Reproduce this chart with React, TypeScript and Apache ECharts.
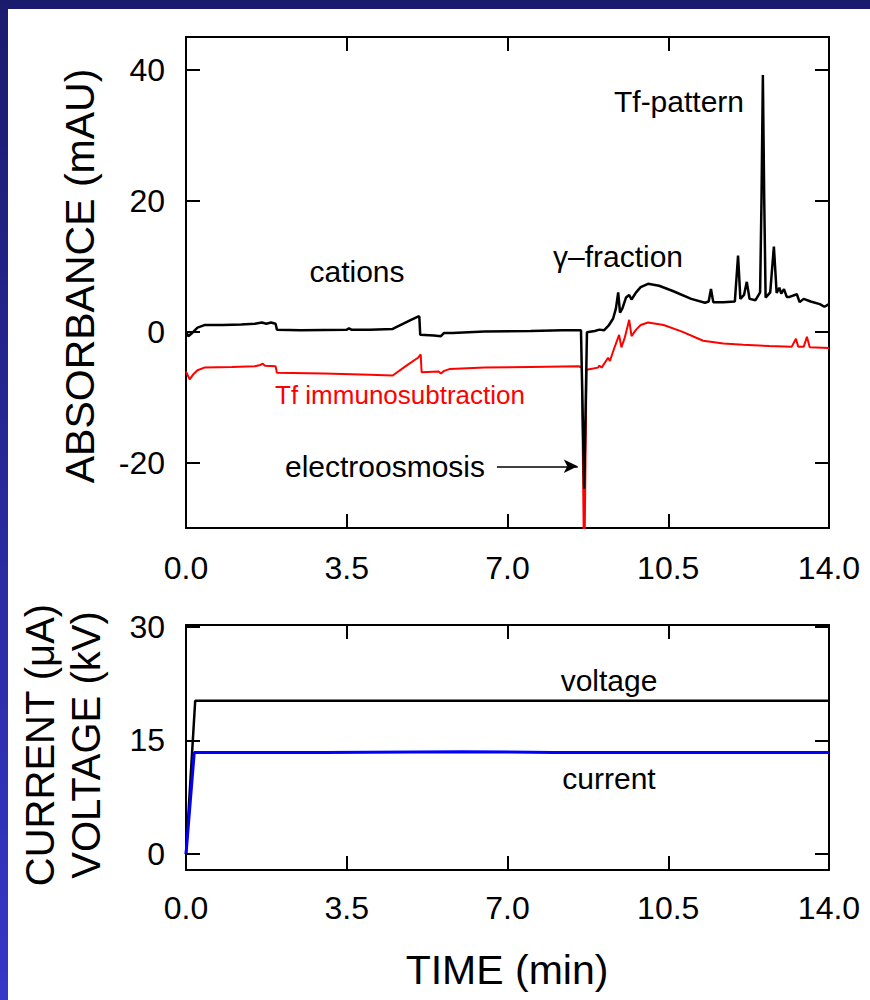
import React, { useEffect, useRef } from "react";
import * as echarts from "echarts";

// Absorbance electropherogram (time in min, absorbance in mAU)
const controlTime = [
  0.0, 0.05, 0.12, 0.25, 0.4, 0.8, 1.2, 1.5, 1.65, 1.75, 1.85, 1.95, 1.98, 2.5, 3.0, 3.5, 3.55, 3.6, 4.0, 4.5,
  4.7, 4.9, 5.05, 5.08, 5.1, 5.4, 5.55, 5.62, 5.8, 6.5, 7.5, 8.2, 8.6, 8.67, 8.73, 8.9, 9.0, 9.1, 9.2, 9.3,
  9.36, 9.41, 9.45, 9.5, 9.58, 9.65, 9.7, 9.8, 9.9, 10.06, 10.3, 10.6, 11.0, 11.3, 11.38, 11.43, 11.48, 11.7, 11.95, 12.02,
  12.07, 12.15, 12.21, 12.27, 12.4, 12.5, 12.53, 12.56, 12.59, 12.62, 12.72, 12.8, 12.86, 12.92, 12.96, 13.02, 13.08, 13.14, 13.3, 13.36,
  13.45, 13.6, 13.8, 13.9, 14.0,
];
const controlAbs = [
  0.0, -0.7, -0.3, 0.6, 1.0, 1.0, 1.1, 1.2, 1.4, 1.2, 1.4, 1.2, 0.3, 0.2, 0.25, 0.3, 0.5, 0.3, 0.3, 0.4,
  1.1, 1.8, 2.3, 2.3, -0.5, -0.6, -0.7, -0.2, -0.2, 0.0, 0.1, 0.2, 0.2, -24, -0.1, 0.1, 0.3, 0.2, 0.9, 2.0,
  3.5, 6.0, 2.9, 3.5, 5.2, 5.6, 4.9, 6.0, 6.8, 7.3, 7.0, 6.2, 5.0, 4.4, 4.6, 6.5, 4.5, 4.5, 4.6, 11.6,
  5.0, 5.6, 7.6, 5.0, 4.8, 6.0, 20.0, 39.2, 20.0, 5.2, 6.0, 13.0, 5.9, 6.7, 5.8, 6.5, 5.3, 5.3, 5.7, 4.5,
  5.0, 4.6, 4.2, 3.8, 4.2,
];

const subtractedTime = [
  0.0, 0.08, 0.15, 0.25, 0.4, 1.0, 1.5, 1.62, 1.67, 1.72, 1.95, 1.98, 3.0, 4.0, 4.5, 4.8, 5.05, 5.11, 5.13, 5.5,
  5.55, 5.62, 5.75, 6.5, 7.5, 8.55, 8.62, 8.67, 8.72, 8.75, 8.97, 9.0, 9.05, 9.19, 9.23, 9.3, 9.43, 9.48, 9.55, 9.65,
  9.7, 9.8, 9.9, 10.06, 10.4, 10.8, 11.26, 11.7, 12.13, 12.7, 13.19, 13.28, 13.33, 13.45, 13.52, 13.58, 14.0,
];
const subtractedAbs = [
  -6.1, -7.3, -6.6, -5.9, -5.5, -5.4, -5.3, -5.1, -4.9, -5.2, -5.3, -6.3, -6.4, -6.6, -6.7, -5.2, -4.0, -3.5, -6.2, -6.1,
  -6.4, -6.0, -5.7, -5.5, -5.4, -5.3, -5.5, -38, -5.8, -5.8, -5.5, -5.2, -5.5, -4.0, -4.5, -3.0, -0.5, -2.4, -1.0, 1.8,
  -0.7, 0.3, 1.0, 1.4, 1.0, 0.0, -1.4, -1.8, -2.0, -2.2, -2.3, -1.1, -2.3, -2.3, -0.8, -2.4, -2.5,
];

// Electrical trace
const voltageTime = [0, 0.2, 3.5, 7.0, 10.5, 14.0];
const voltageKV = [0, 20.2, 20.2, 20.2, 20.2, 20.2];
const currentTime = [0, 0.18, 3.0, 6.0, 8.0, 12.0, 14.0];
const currentUA = [0, 13.4, 13.4, 13.5, 13.4, 13.4, 13.4];

const timeTicks = [0, 3.5, 7.0, 10.5, 14.0];
const absTicks = [-20, 0, 20, 40];
const elecTicks = [0, 15, 30];

const FONT = "'Liberation Sans', Arial, sans-serif";
const zip = (a: number[], b: number[]) => a.map((v, i) => [v, b[i]]);

export default function App() {
  const ref = useRef<HTMLDivElement>(null);
  useEffect(() => {
    if (!ref.current) return;
    const chart = echarts.init(ref.current, undefined, { renderer: "svg" });
    const line = { show: true, onZero: false, lineStyle: { color: "#000", width: 2 } };
    const tick = { show: true, inside: true, length: 14, lineStyle: { color: "#000", width: 2 } };
    const noLabel = { show: false };
    const xBase = (grid: number, pos: string, labels: boolean, margin: number) => ({
      type: "value",
      gridIndex: grid,
      position: pos,
      min: 0,
      max: 14,
      interval: 3.5,
      axisLine: line,
      axisTick: tick,
      splitLine: { show: false },
      axisLabel: labels
        ? {
            show: true,
            margin,
            fontSize: 32,
            color: "#000",
            fontFamily: FONT,
            showMinLabel: true,
            showMaxLabel: true,
            formatter: (v: number) => v.toFixed(1),
          }
        : noLabel,
    });
    const yBase = (grid: number, pos: string, labels: boolean, min: number, max: number, ticks: number[]) => ({
      type: "value",
      gridIndex: grid,
      position: pos,
      min,
      max,
      axisLine: line,
      axisTick: { ...tick, customValues: ticks },
      splitLine: { show: false },
      axisLabel: labels
        ? { show: true, margin: 21, fontSize: 32, color: "#000", fontFamily: FONT, customValues: ticks }
        : { show: false, customValues: ticks },
    });
    const txt = (text: string, x: number, y: number, size: number, color = "#000", rotation = 0) => ({
      type: "text",
      x,
      y,
      rotation,
      style: {
        text,
        fill: color,
        fontSize: size,
        fontFamily: FONT,
        textAlign: "center",
        textVerticalAlign: "middle",
      },
      z: 10,
    });
    chart.setOption({
      animation: false,
      backgroundColor: "#fff",
      grid: [
        { left: 186, top: 37, width: 643, height: 491 },
        { left: 186, top: 625, width: 643, height: 245 },
      ],
      xAxis: [
        xBase(0, "bottom", true, 24),
        xBase(0, "top", false, 0),
        xBase(1, "bottom", true, 22),
        xBase(1, "top", false, 0),
      ],
      yAxis: [
        yBase(0, "left", true, -30, 45, absTicks),
        yBase(0, "right", false, -30, 45, absTicks),
        yBase(1, "left", true, -2.1, 30.2, elecTicks),
        yBase(1, "right", false, -2.1, 30.2, elecTicks),
      ],
      series: [
        {
          type: "line",
          xAxisIndex: 0,
          yAxisIndex: 0,
          data: zip(controlTime, controlAbs),
          showSymbol: false,
          lineStyle: { color: "#000", width: 2.5 },
          z: 3,
          markLine: {
            silent: true,
            symbol: ["none", "arrow"],
            symbolSize: [10, 14],
            label: { show: false },
            lineStyle: { color: "#000", width: 1.5, type: "solid" },
            data: [[{ coord: [6.77, -20.57] }, { coord: [8.53, -20.57] }]],
          },
        },
        {
          type: "line",
          xAxisIndex: 0,
          yAxisIndex: 0,
          data: zip(subtractedTime, subtractedAbs),
          showSymbol: false,
          lineStyle: { color: "#ff0000", width: 2 },
          z: 2,
        },
        {
          type: "line",
          xAxisIndex: 2,
          yAxisIndex: 2,
          data: zip(voltageTime, voltageKV),
          showSymbol: false,
          lineStyle: { color: "#000", width: 2.5 },
        },
        {
          type: "line",
          xAxisIndex: 2,
          yAxisIndex: 2,
          data: zip(currentTime, currentUA),
          showSymbol: false,
          lineStyle: { color: "#0000ff", width: 3 },
        },
      ],
      graphic: [
        { type: "rect", shape: { x: 0, y: 0, width: 870, height: 9 }, style: { fill: "#1b1b6e" } },
        {
          type: "rect",
          shape: { x: 0, y: 0, width: 8, height: 1000 },
          style: {
            fill: new echarts.graphic.LinearGradient(0, 0, 0, 1, [
              { offset: 0, color: "#1b1b6e" },
              { offset: 1, color: "#3636c8" },
            ]),
          },
        },
        txt("cations", 357, 271, 30),
        txt("\u03b3\u2013fraction", 618, 256, 30),
        txt("Tf-pattern", 679, 101, 30),
        txt("Tf immunosubtraction", 400, 395, 26, "#ff0000"),
        txt("electroosmosis", 385, 466, 30),
        txt("voltage", 609, 680, 30),
        txt("current", 609, 778, 30),
        txt("TIME (min)", 507, 970, 41),
        txt("ABSORBANCE (mAU)", 80, 276, 41, "#000", Math.PI / 2),
        txt("CURRENT (\u03bcA)", 40, 745, 40, "#000", Math.PI / 2),
        txt("VOLTAGE (kV)", 86, 745, 40, "#000", Math.PI / 2),
      ],
    });
    return () => chart.dispose();
  }, []);
  return (
    <div
      ref={ref}
      style={{ position: "absolute", left: 0, top: 0, width: 870, height: 1000 }}
    />
  );
}
